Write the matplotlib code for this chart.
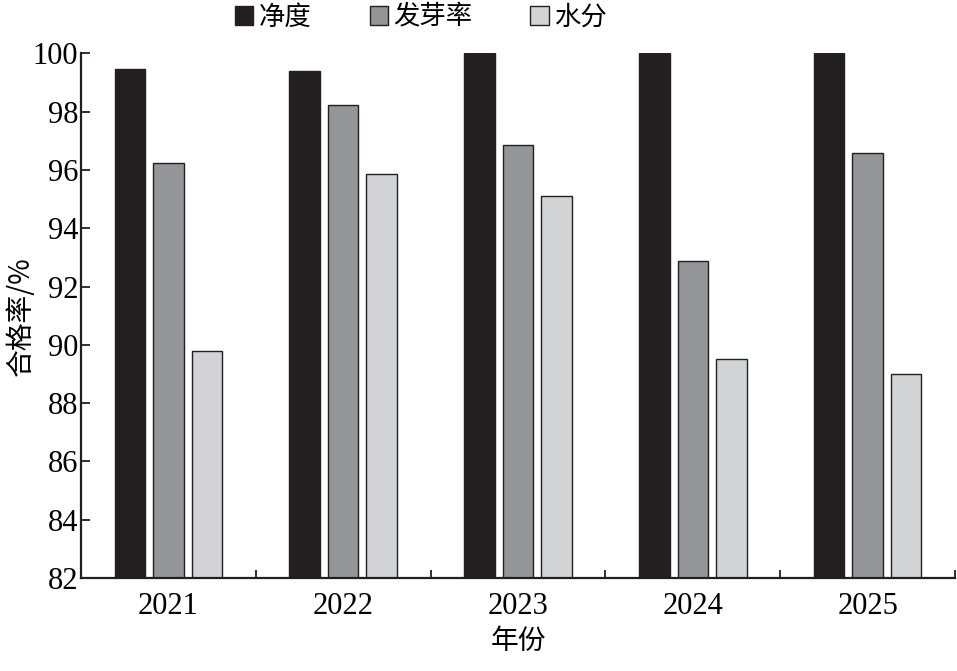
import matplotlib
matplotlib.use("Agg")
import matplotlib.pyplot as plt
import numpy as np

years = ["2021", "2022", "2023", "2024", "2025"]
series_names = ["净度", "发芽率", "水分"]
purity = [99.45, 99.39, 100.0, 100.0, 100.0]
germination = [96.24, 98.21, 96.84, 92.87, 96.57]
moisture = [89.79, 95.85, 95.10, 89.51, 89.00]
yticks = [82, 84, 86, 88, 90, 92, 94, 96, 98, 100]

colors = ["#231f20", "#939598", "#d1d3d4"]
serif = ["Liberation Serif", "DejaVu Serif"]
cjk = ["Noto Sans CJK SC", "DejaVu Sans"]

fig = plt.figure(figsize=(9.57, 6.71), dpi=100)
ax = fig.add_axes([81/957, 1-578/671, (955-81)/957, (578-53.3)/671])

x = np.arange(len(years))
w = 0.175
off = 0.22
data = [purity, germination, moisture]
handles = []
for i, (vals, c) in enumerate(zip(data, colors)):
    ec = c if i == 0 else "#231f20"
    b = ax.bar(x + (i-1)*off, vals, width=w, color=c, edgecolor=ec, linewidth=1.0,
               label=series_names[i], zorder=2)
    handles.append(b)

ax.set_ylim(82, 100)
ax.set_xlim(-0.5, 4.5)
ax.set_yticks(yticks)
ax.set_yticklabels([str(t) for t in yticks], fontfamily=serif, fontsize=22)
ax.set_xticks(x)
ax.set_xticklabels(years, fontfamily=serif, fontsize=22)
ax.tick_params(axis="x", which="major", length=0, pad=10)
ax.set_xticks(np.arange(0.5, 4.6, 1.0), minor=True)
ax.tick_params(axis="x", which="minor", direction="in", length=6, width=1.3, color="#231f20")
ax.tick_params(axis="y", direction="in", length=6.5, width=1.3, color="#231f20", pad=2)

for s in ["top", "right"]:
    ax.spines[s].set_visible(False)
for s in ["left", "bottom"]:
    ax.spines[s].set_linewidth(1.6)
    ax.spines[s].set_color("#231f20")

ax.set_ylabel("合格率/%", fontfamily=cjk, fontsize=20)
ax.yaxis.set_label_coords(-0.052, 0.5)
ax.set_xlabel("年份", fontfamily=cjk, fontsize=20, labelpad=4)

leg = fig.legend(handles=handles, labels=series_names, loc="upper center",
                 bbox_to_anchor=(421/957, 1.03), ncol=3, frameon=False,
                 prop={"family": cjk, "size": 19}, handlelength=0.7, handleheight=0.7,
                 handletextpad=0.2, columnspacing=2.2)

fig.savefig("out.png", dpi=100)
